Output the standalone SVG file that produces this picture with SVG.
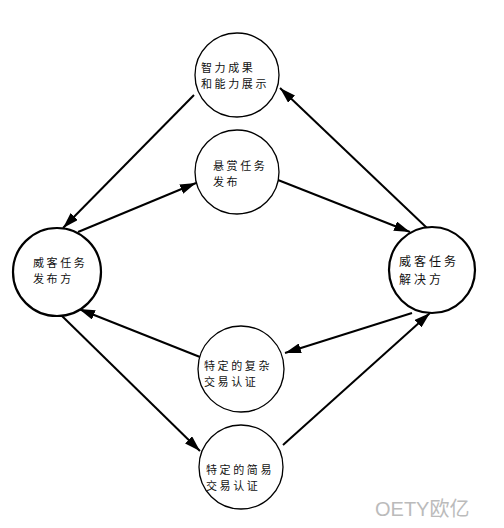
<svg xmlns="http://www.w3.org/2000/svg" width="504" height="528" viewBox="0 0 504 528">
<style>
.n{fill:#fff;stroke:#000;stroke-width:1.3}
.b{stroke-width:2.2}
.t{font-family:"Noto Sans CJK SC","Liberation Serif",serif;font-size:11px;fill:#111;letter-spacing:2.6px}
.c line{stroke:#000;stroke-width:2;marker-end:url(#ah)}
.w{font-family:"Liberation Sans","Noto Sans CJK SC",sans-serif;font-size:20px;fill:#bbb}
</style>
<defs>
<marker id="ah" viewBox="0 0 16 10" refX="16" refY="5" markerWidth="8" markerHeight="5" orient="auto" markerUnits="strokeWidth">
<path d="M0,0 L16,5 L0,10 z" fill="#000"/>
</marker>
</defs>
<rect width="504" height="528" fill="#fff"/>
<g class="c" id="connectors">
<line x1="194" y1="95" x2="63" y2="228"/>
<line x1="78" y1="232" x2="196" y2="183"/>
<line x1="278" y1="180" x2="410" y2="232"/>
<line x1="427" y1="228" x2="280" y2="88"/>
<line x1="412" y1="313" x2="285" y2="353"/>
<line x1="200" y1="357" x2="79" y2="309"/>
<line x1="62" y1="316" x2="200" y2="451"/>
<line x1="283" y1="445" x2="430" y2="313"/>
</g>
<g id="n1"><circle class="n" cx="237" cy="75" r="42"/><text class="t"><tspan x="201" y="72">智力成果</tspan><tspan x="201" y="88">和能力展示</tspan></text></g>
<g id="n2"><circle class="n" cx="237" cy="172" r="42"/><text class="t"><tspan x="213" y="170">悬赏任务</tspan><tspan x="213" y="186">发布</tspan></text></g>
<g id="n3"><circle class="n b" cx="57" cy="272" r="44"/><text class="t"><tspan x="33" y="267">威客任务</tspan><tspan x="33" y="283">发布方</tspan></text></g>
<g id="n4"><circle class="n b" cx="432" cy="270" r="43"/><text class="t" style="font-size:12px;letter-spacing:3px"><tspan x="399" y="266">威客任务</tspan><tspan x="399" y="284">解决方</tspan></text></g>
<g id="n5"><circle class="n" cx="241" cy="369" r="43"/><text class="t"><tspan x="204" y="370">特定的复杂</tspan><tspan x="204" y="386">交易认证</tspan></text></g>
<g id="n6"><circle class="n" cx="241" cy="467" r="42"/><text class="t"><tspan x="206" y="474">特定的简易</tspan><tspan x="206" y="490">交易认证</tspan></text></g>
<text class="w" x="375" y="516">OETY欧亿</text>
</svg>
